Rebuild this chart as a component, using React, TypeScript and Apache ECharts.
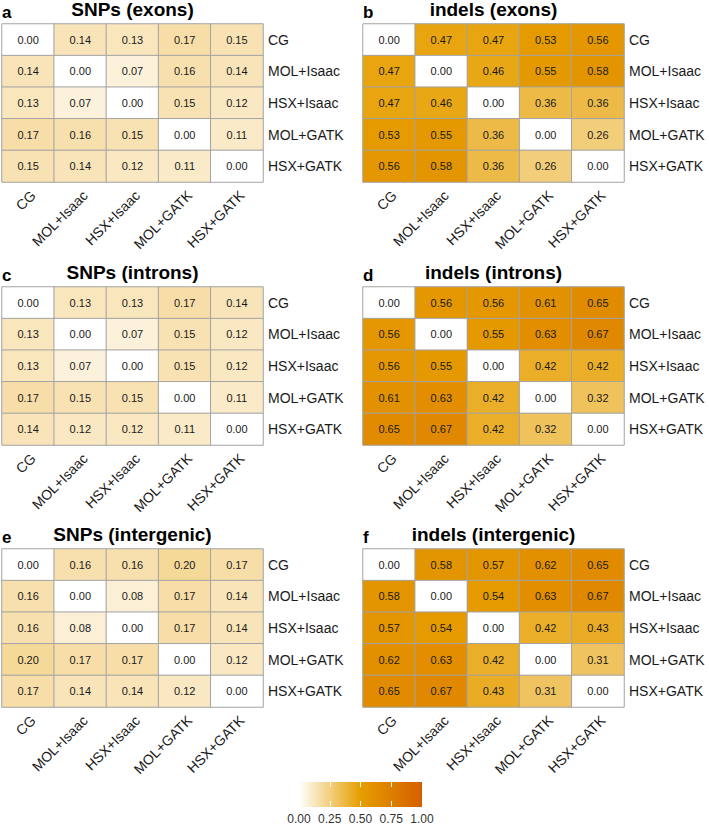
import React, { useEffect, useRef } from "react";
import * as echarts from "echarts";

const categories = ["CG", "MOL+Isaac", "HSX+Isaac", "MOL+GATK", "HSX+GATK"];

const snpExons = [
  [0.0, 0.14, 0.13, 0.17, 0.15],
  [0.14, 0.0, 0.07, 0.16, 0.14],
  [0.13, 0.07, 0.0, 0.15, 0.12],
  [0.17, 0.16, 0.15, 0.0, 0.11],
  [0.15, 0.14, 0.12, 0.11, 0.0],
];
const indelExons = [
  [0.0, 0.47, 0.47, 0.53, 0.56],
  [0.47, 0.0, 0.46, 0.55, 0.58],
  [0.47, 0.46, 0.0, 0.36, 0.36],
  [0.53, 0.55, 0.36, 0.0, 0.26],
  [0.56, 0.58, 0.36, 0.26, 0.0],
];
const snpIntrons = [
  [0.0, 0.13, 0.13, 0.17, 0.14],
  [0.13, 0.0, 0.07, 0.15, 0.12],
  [0.13, 0.07, 0.0, 0.15, 0.12],
  [0.17, 0.15, 0.15, 0.0, 0.11],
  [0.14, 0.12, 0.12, 0.11, 0.0],
];
const indelIntrons = [
  [0.0, 0.56, 0.56, 0.61, 0.65],
  [0.56, 0.0, 0.55, 0.63, 0.67],
  [0.56, 0.55, 0.0, 0.42, 0.42],
  [0.61, 0.63, 0.42, 0.0, 0.32],
  [0.65, 0.67, 0.42, 0.32, 0.0],
];
const snpIntergenic = [
  [0.0, 0.16, 0.16, 0.2, 0.17],
  [0.16, 0.0, 0.08, 0.17, 0.14],
  [0.16, 0.08, 0.0, 0.17, 0.14],
  [0.2, 0.17, 0.17, 0.0, 0.12],
  [0.17, 0.14, 0.14, 0.12, 0.0],
];
const indelIntergenic = [
  [0.0, 0.58, 0.57, 0.62, 0.65],
  [0.58, 0.0, 0.54, 0.63, 0.67],
  [0.57, 0.54, 0.0, 0.42, 0.43],
  [0.62, 0.63, 0.42, 0.0, 0.31],
  [0.65, 0.67, 0.43, 0.31, 0.0],
];

const panelTitles = [
  "SNPs (exons)",
  "indels (exons)",
  "SNPs (introns)",
  "indels (introns)",
  "SNPs (intergenic)",
  "indels (intergenic)",
];
const panelLetters = ["a", "b", "c", "d", "e", "f"];
const colorbarTicks = [0, 0.25, 0.5, 0.75, 1];
const scaleColors = ["#FFFFFF", "#E69F00", "#D55E00"];

const FONT = "'Liberation Sans', Arial, Helvetica, sans-serif";

export default function App() {
  const ref = useRef<HTMLDivElement>(null);

  useEffect(() => {
    if (!ref.current) return;
    const chart = echarts.init(ref.current, undefined, { renderer: "svg" });
    const matrices = [snpExons, indelExons, snpIntrons, indelIntrons, snpIntergenic, indelIntergenic];

    const colLeft = [2, 363];
    const rowTop = [24, 287, 549];
    const gw = 261;
    const gh = 158;

    const grids: any[] = [];
    const xAxes: any[] = [];
    const yAxes: any[] = [];
    const series: any[] = [];
    const titles: any[] = [];

    matrices.forEach((m, i) => {
      const col = i % 2;
      const row = Math.floor(i / 2);
      const left = colLeft[col];
      const top = rowTop[row];
      grids.push({ left, top, width: gw, height: gh, containLabel: false });
      xAxes.push({
        gridIndex: i,
        type: "category",
        data: categories,
        axisLine: { show: false },
        axisTick: { show: false },
        splitLine: { show: false },
        axisLabel: {
          rotate: 45,
          align: "right",
          verticalAlign: "top",
          fontSize: 14,
          color: "#1a1a1a",
          fontFamily: FONT,
          margin: 6,
          interval: 0,
        },
      });
      yAxes.push({
        gridIndex: i,
        type: "category",
        data: categories,
        inverse: true,
        position: "right",
        axisLine: { show: false },
        axisTick: { show: false },
        splitLine: { show: false },
        axisLabel: {
          fontSize: 14,
          color: "#1a1a1a",
          fontFamily: FONT,
          margin: 5,
          interval: 0,
        },
      });
      const data: any[] = [];
      m.forEach((r, ri) => r.forEach((v, ci) => data.push([ci, ri, v])));
      series.push({
        type: "heatmap",
        xAxisIndex: i,
        yAxisIndex: i,
        data,
        label: {
          show: true,
          fontSize: 11,
          color: "#1a1a1a",
          fontFamily: FONT,
          formatter: (p: any) => Number(p.value[2]).toFixed(2),
        },
        itemStyle: { borderColor: "#A3A3A3", borderWidth: 1 },
        emphasis: { disabled: true },
      });
      titles.push({
        text: panelTitles[i],
        left: left + gw / 2,
        top: top - 24,
        textAlign: "center",
        padding: 0,
        textStyle: { fontSize: 19, fontWeight: "bold", color: "#000", fontFamily: FONT },
      });
      titles.push({
        text: panelLetters[i],
        left: left,
        top: top - 20,
        padding: 0,
        textStyle: { fontSize: 17, fontWeight: "bold", color: "#000", fontFamily: FONT },
      });
    });

    // colour bar axis
    const cbLeft = 299;
    const cbTop = 782;
    const cbW = 123;
    const cbH = 25;
    grids.push({ left: cbLeft, top: cbTop, width: cbW, height: cbH });
    xAxes.push({
      gridIndex: 6,
      type: "value",
      min: 0,
      max: 1,
      interval: 0.25,
      z: 10,
      axisLine: { show: false },
      splitLine: { show: false },
      axisTick: {
        show: true,
        inside: true,
        length: 5,
        customValues: colorbarTicks.slice(1, 4),
        lineStyle: { color: "#fff", width: 1 },
      },
      axisLabel: {
        fontSize: 12,
        color: "#333",
        fontFamily: FONT,
        margin: 7,
        customValues: colorbarTicks,
        formatter: (v: number) => v.toFixed(2),
      },
    });
    xAxes.push({
      gridIndex: 6,
      type: "value",
      position: "top",
      min: 0,
      max: 1,
      interval: 0.25,
      z: 10,
      axisLine: { show: false },
      splitLine: { show: false },
      axisLabel: { show: false },
      axisTick: {
        show: true,
        inside: true,
        length: 5,
        customValues: colorbarTicks.slice(1, 4),
        lineStyle: { color: "#fff", width: 1 },
      },
    });
    yAxes.push({ gridIndex: 6, type: "value", show: false, min: 0, max: 1 });

    chart.setOption({
      animation: false,
      backgroundColor: "#fff",
      title: titles,
      grid: grids,
      xAxis: xAxes,
      yAxis: yAxes,
      visualMap: {
        show: false,
        type: "continuous",
        min: 0,
        max: 1,
        seriesIndex: [0, 1, 2, 3, 4, 5],
        inRange: { color: scaleColors },
      },
      graphic: [
        {
          type: "rect",
          z: 1,
          shape: { x: cbLeft, y: cbTop, width: cbW, height: cbH },
          style: {
            fill: new echarts.graphic.LinearGradient(0, 0, 1, 0, [
              { offset: 0, color: scaleColors[0] },
              { offset: 0.5, color: scaleColors[1] },
              { offset: 1, color: scaleColors[2] },
            ]),
          },
        },
      ],
      series,
    });

    return () => chart.dispose();
  }, []);

  return (
    <div
      ref={ref}
      style={{ position: "absolute", left: 0, top: 0, width: 709, height: 825 }}
    />
  );
}
